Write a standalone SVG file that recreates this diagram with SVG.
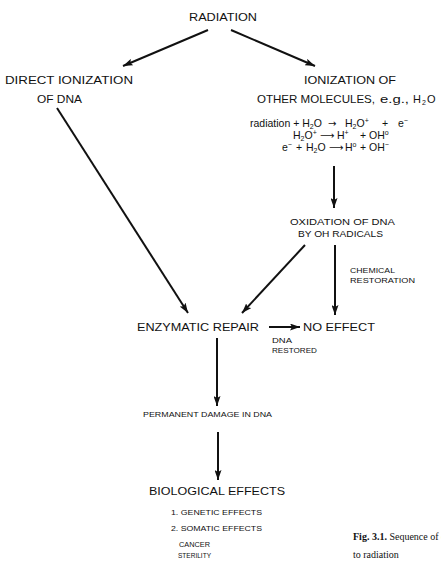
<svg xmlns="http://www.w3.org/2000/svg" width="441" height="561" viewBox="0 0 441 561">
<defs>
<marker id="ah" markerUnits="userSpaceOnUse" markerWidth="11" markerHeight="7" refX="10" refY="3.5" orient="auto">
<path d="M0,0 L10,3.5 L0,7 L2,3.5 Z" fill="#111"/>
</marker>
<style>
text{font-family:"Liberation Sans","DejaVu Sans",sans-serif;fill:#111}
.big{font-size:11px}
.mid{font-size:9.5px}
.sm{font-size:7px}
.rx{font-size:10.5px}
.sb{font-size:7px}
.ar{font-family:"DejaVu Sans",sans-serif;font-size:10px}
.cap{font-family:"Liberation Serif",serif;font-size:10px}
.c line{stroke:#111;stroke-width:2;fill:none;marker-end:url(#ah)}
</style>
</defs>
<rect width="441" height="561" fill="#fff"/>
<g id="radiation"><text class="big" x="189" y="21" textLength="68" lengthAdjust="spacingAndGlyphs">RADIATION</text></g>
<g id="direct">
<text class="big" x="5" y="84" textLength="128" lengthAdjust="spacingAndGlyphs">DIRECT IONIZATION</text>
<text class="big" x="37" y="103" textLength="45" lengthAdjust="spacingAndGlyphs">OF DNA</text>
</g>
<g id="other">
<text class="big" x="304" y="84" textLength="92" lengthAdjust="spacingAndGlyphs">IONIZATION  OF</text>
<text class="big" x="257" y="103" textLength="118" lengthAdjust="spacingAndGlyphs">OTHER  MOLECULES,</text>
<text class="big" x="380" y="103" font-size="12" textLength="29" lengthAdjust="spacingAndGlyphs">e.g.,</text>
<text class="big" x="413" y="103">H</text>
<text class="sb" x="422" y="105">2</text>
<text class="big" x="427" y="103">O</text>
</g>
<g id="reactions">
<text class="rx" x="250" y="127">radiation + H<tspan class="sb" dy="2">2</tspan><tspan dy="-2">O</tspan></text>
<text class="ar" x="328" y="127">→</text>
<text class="rx" x="345" y="127">H<tspan class="sb" dy="2">2</tspan><tspan dy="-2">O</tspan><tspan class="sb" dy="-4">+</tspan></text>
<text class="rx" x="382" y="127">+</text>
<text class="rx" x="398" y="127">e<tspan class="sb" dy="-4">−</tspan></text>
<text class="rx" x="293" y="139">H<tspan class="sb" dy="2">2</tspan><tspan dy="-2">O</tspan><tspan class="sb" dy="-4">+</tspan></text>
<text class="ar" x="320" y="139">⟶</text>
<text class="rx" x="337" y="139">H<tspan class="sb" dy="-4">+</tspan></text>
<text class="rx" x="360" y="139">+ OH<tspan class="sb" dy="-4">o</tspan></text>
<text class="rx" x="282" y="151">e<tspan class="sb" dy="-4">−</tspan></text>
<text class="rx" x="296" y="151">+</text>
<text class="rx" x="306" y="151">H<tspan class="sb" dy="2">2</tspan><tspan dy="-2">O</tspan></text>
<text class="ar" x="329" y="151">⟶</text>
<text class="rx" x="345" y="151">H<tspan class="sb" dy="-4">o</tspan></text>
<text class="rx" x="360" y="151">+ OH<tspan class="sb" dy="-4">−</tspan></text>
</g>
<g id="oxidation">
<text class="mid" x="290" y="225" textLength="105" lengthAdjust="spacingAndGlyphs">OXIDATION OF DNA</text>
<text class="mid" x="298" y="237" textLength="85" lengthAdjust="spacingAndGlyphs">BY OH RADICALS</text>
</g>
<g id="chem">
<text class="sm" x="350" y="273" textLength="45" lengthAdjust="spacingAndGlyphs">CHEMICAL</text>
<text class="sm" x="350" y="283" textLength="65" lengthAdjust="spacingAndGlyphs">RESTORATION</text>
</g>
<g id="repair"><text class="big" x="137" y="331" textLength="122" lengthAdjust="spacingAndGlyphs">ENZYMATIC  REPAIR</text></g>
<g id="noeffect"><text class="big" x="303" y="331" textLength="72" lengthAdjust="spacingAndGlyphs">NO  EFFECT</text></g>
<g id="restored">
<text class="sm" x="272" y="343" textLength="20" lengthAdjust="spacingAndGlyphs">DNA</text>
<text class="sm" x="272" y="353" textLength="45" lengthAdjust="spacingAndGlyphs">RESTORED</text>
</g>
<g id="damage"><text class="sm" x="143" y="417" textLength="129" lengthAdjust="spacingAndGlyphs">PERMANENT DAMAGE IN DNA</text></g>
<g id="bio">
<text class="big" x="149" y="495" textLength="136" lengthAdjust="spacingAndGlyphs">BIOLOGICAL  EFFECTS</text>
<text class="sm" x="171" y="515" textLength="91" lengthAdjust="spacingAndGlyphs">1. GENETIC  EFFECTS</text>
<text class="sm" x="171" y="531" textLength="91" lengthAdjust="spacingAndGlyphs">2. SOMATIC EFFECTS</text>
<text class="sm" x="179" y="547" textLength="31" lengthAdjust="spacingAndGlyphs">CANCER</text>
<text class="sm" x="178" y="558" textLength="33" lengthAdjust="spacingAndGlyphs">STERILITY</text>
</g>
<g id="caption">
<text class="cap" x="353" y="540"><tspan font-weight="bold">Fig. 3.1.</tspan> Sequence of e</text>
<text class="cap" x="353" y="558">to radiation</text>
</g>
<g id="connectors" class="c">
<line x1="208" y1="30" x2="123" y2="66"/>
<line x1="231" y1="30" x2="315" y2="66"/>
<line x1="57" y1="108" x2="188" y2="313"/>
<line x1="334" y1="166" x2="334" y2="208"/>
<line x1="305" y1="245" x2="242" y2="313"/>
<line x1="335" y1="245" x2="335" y2="315"/>
<line x1="269" y1="327" x2="300" y2="327"/>
<line x1="217" y1="338" x2="217" y2="406"/>
<line x1="218" y1="432" x2="218" y2="480"/>
</g>
</svg>
